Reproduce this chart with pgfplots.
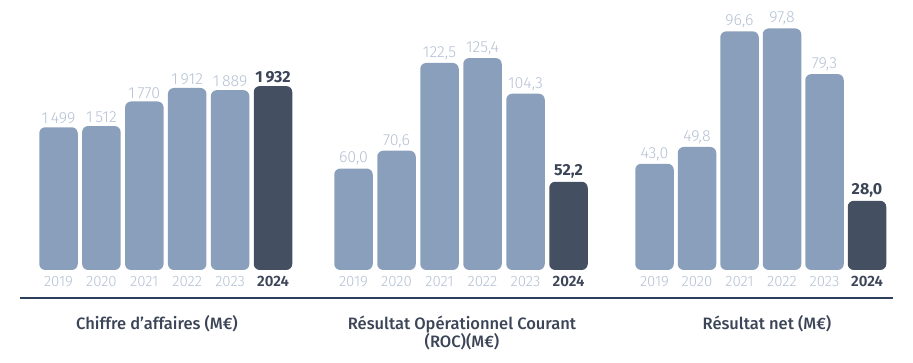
\documentclass[border=0pt]{standalone}
\usepackage{pgfplots}
\pgfplotsset{compat=1.18}
\usepackage{fontspec}
\setmainfont{Fira Sans}
\newfontfamily\lightf{Fira Sans Light}
\newfontfamily\medf{Fira Sans Medium}
\definecolor{barlight}{HTML}{8A9FBB}
\definecolor{bardark}{HTML}{444F62}
\definecolor{labc}{HTML}{B4C1D4}
\definecolor{darkc}{HTML}{3C4558}
\definecolor{linec}{HTML}{2E3F5C}
\definecolor{titlec}{HTML}{3B4557}
\pgfplotsset{
  kpi/.style={
    ybar, scale only axis, bar width=38.5pt,
    xmin=-0.5, xmax=5.5, ymin=0,
    enlargelimits=false, clip=false,
    axis line style={draw=none}, ytick=\empty,
    xtick={0,...,5}, major tick length=0pt,
    xticklabels={2019,2020,2021,2022,2023,{\bfseries\color{darkc}2024}},
    xticklabel style={font=\lightf\fontsize{15}{16}\selectfont, text=labc, inner sep=0pt, yshift=-6pt},
    anchor=south west,
    nodes near coords, point meta=explicit symbolic,
    every node near coord/.append style={font=\lightf\fontsize{16}{17}\selectfont, text=labc, inner sep=0pt, yshift=3pt},
  },
  lbar/.style={fill=barlight, draw=none, bar shift=0pt, rounded corners=6pt},
  dbar/.style={fill=bardark, draw=none, bar shift=0pt, rounded corners=6pt,
    every node near coord/.append style={font=\bfseries\fontsize{16}{17}\selectfont, text=darkc}},
}
\begin{document}
\begin{tikzpicture}[x=1pt,y=1pt]
\useasboundingbox (0,0) rectangle (913,363);
% Chiffre d'affaires
\begin{axis}[kpi, x=42.9pt, y=0.0952pt, ymax=2100, at={(37.05pt,93pt)}]
\addplot[lbar] coordinates {(0,1499) [1\,499] (1,1512) [1\,512] (2,1770) [1\,770] (3,1912) [1\,912] (4,1889) [1\,889]};
\addplot[dbar] coordinates {(5,1932) [1\,932]};
\end{axis}
% ROC
\begin{axis}[kpi, x=43pt, y=1.69pt, ymax=135, at={(332pt,93pt)}]
\addplot[lbar] coordinates {(0,60.0) [60,0] (1,70.6) [70,6] (2,122.5) [122,5] (3,125.4) [125,4] (4,104.3) [104,3]};
\addplot[dbar] coordinates {(5,52.2) [52,2]};
\end{axis}
% Resultat net
\begin{axis}[kpi, x=42.5pt, y=2.47pt, ymax=105, at={(633.25pt,93pt)}]
\addplot[lbar] coordinates {(0,43.0) [43,0] (1,49.8) [49,8] (2,96.6) [96,6] (3,97.8) [97,8] (4,79.3) [79,3]};
\addplot[dbar] coordinates {(5,28.0) [28,0]};
\end{axis}
\draw[linec, line width=1.8pt] (20,65) -- (893,65);
\begin{scope}[every node/.style={font=\medf\fontsize{16.5}{19}\selectfont, text=titlec, anchor=base, inner sep=0pt}]
\node at (157,33) {Chiffre d’affaires (M€)};
\node at (462,33) {Résultat Opérationnel Courant};
\node at (462,15) {(ROC)(M€)};
\node at (767,33) {Résultat net (M€)};
\end{scope}
\end{tikzpicture}
\end{document}
